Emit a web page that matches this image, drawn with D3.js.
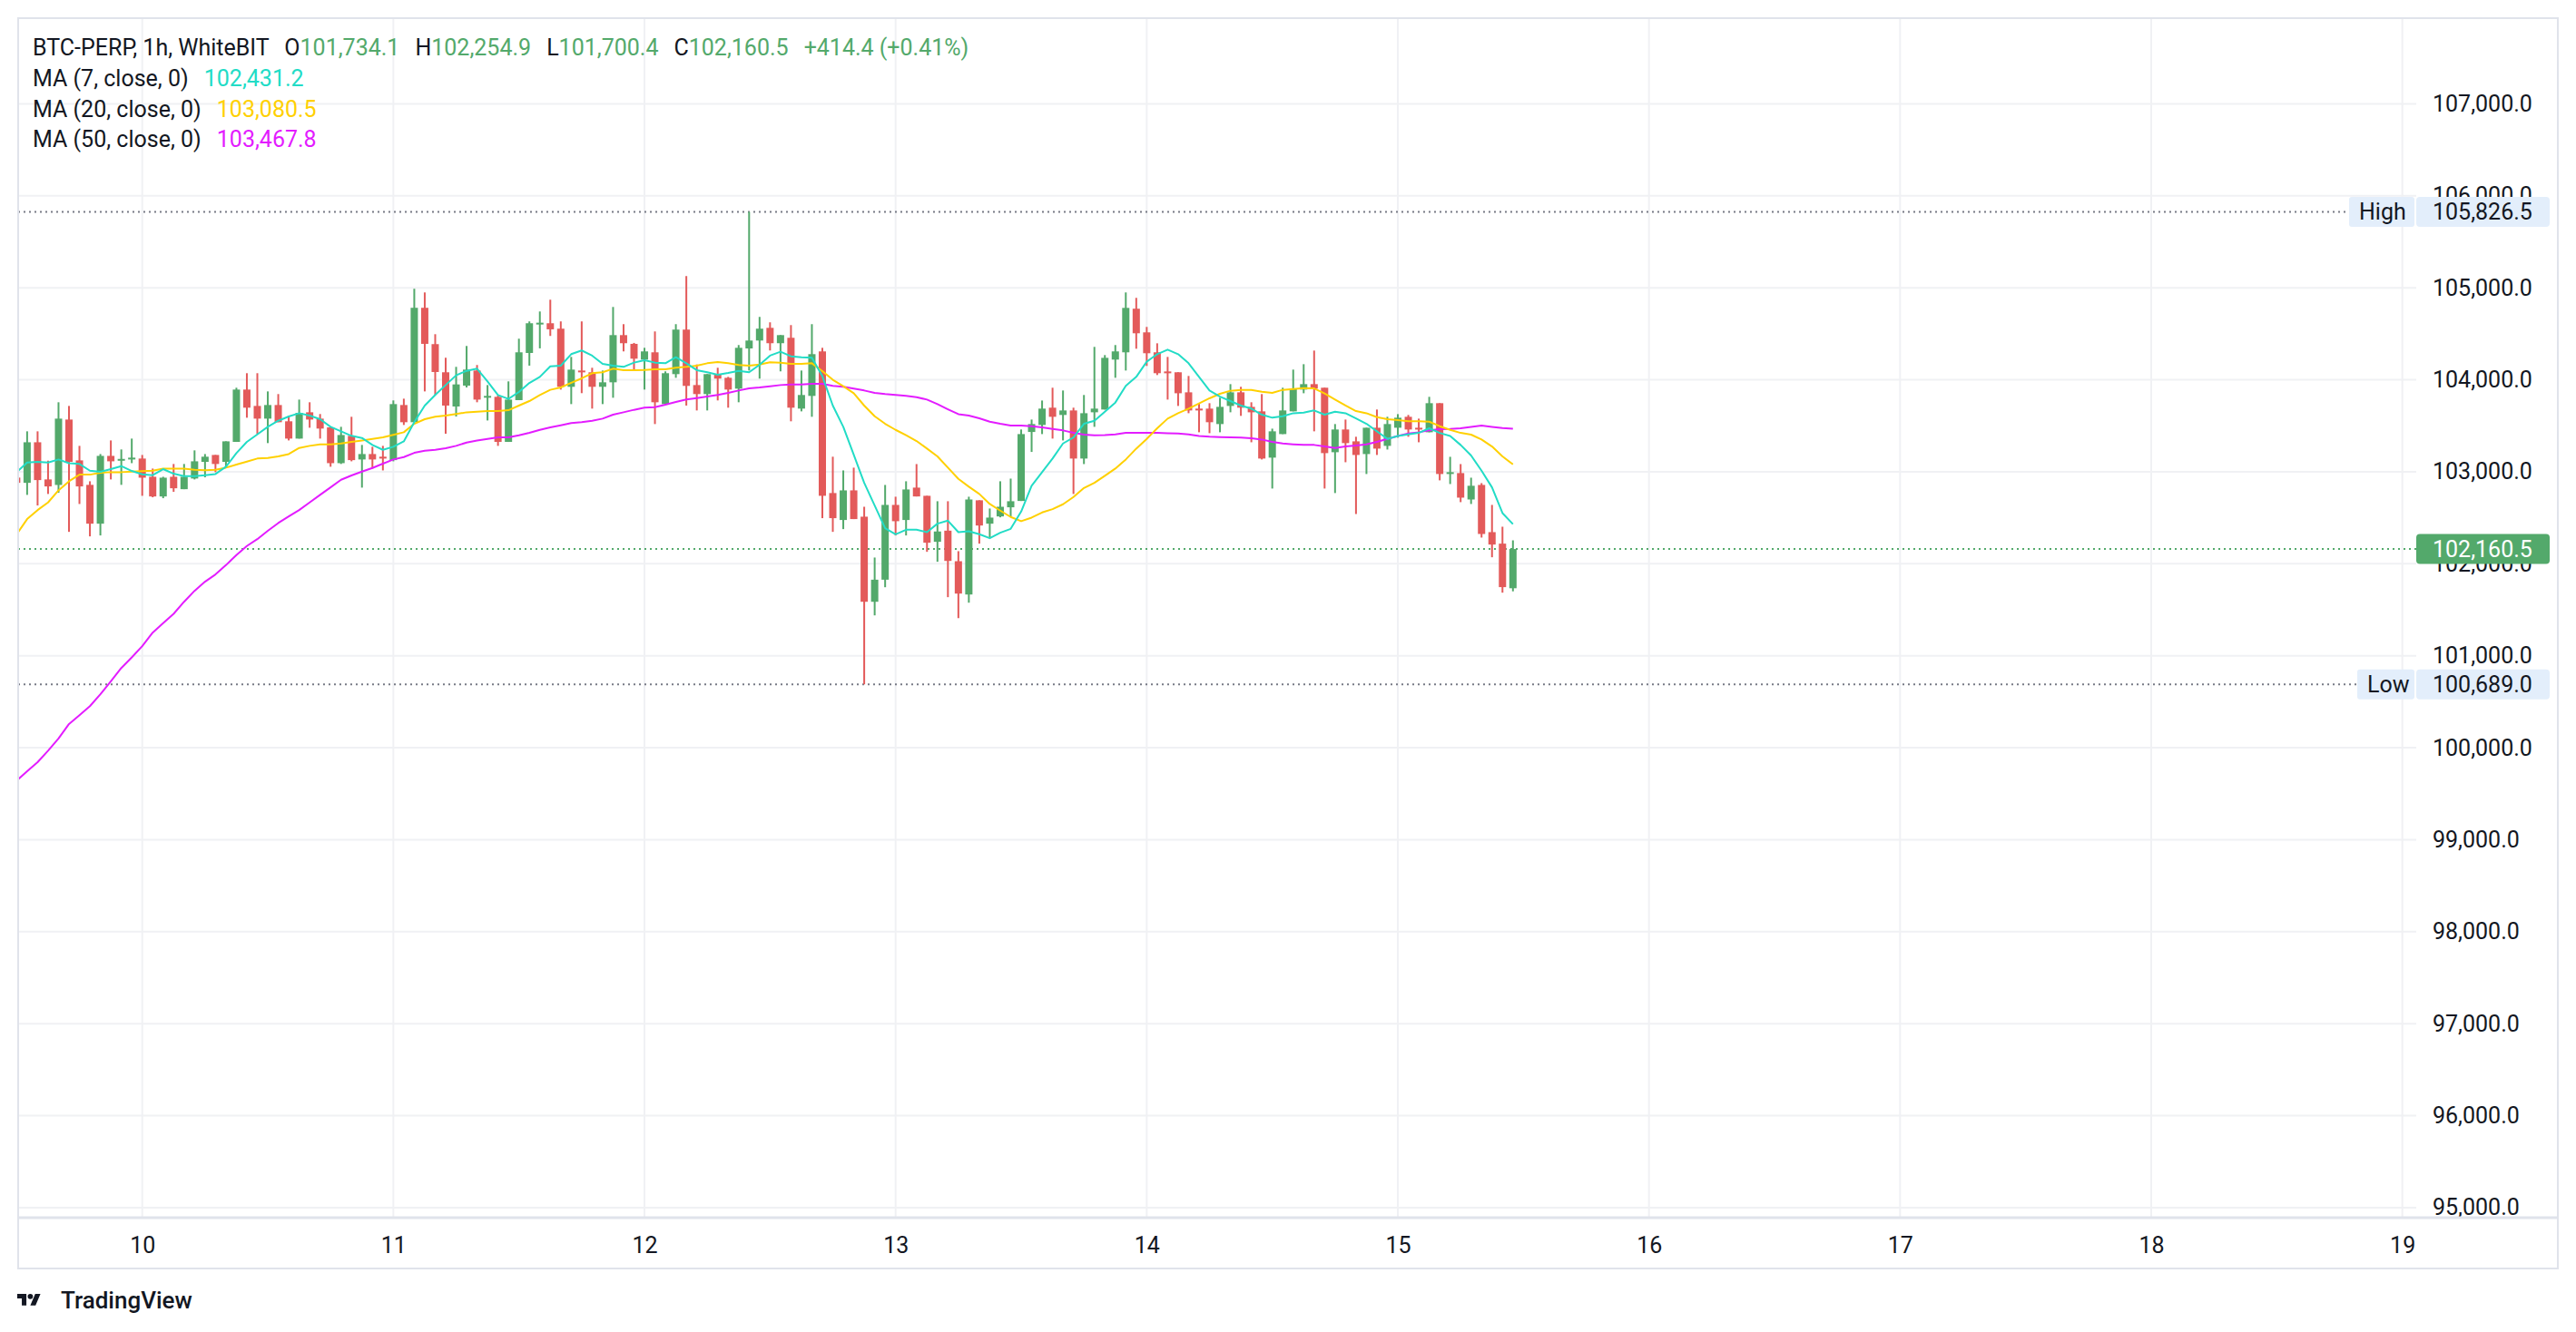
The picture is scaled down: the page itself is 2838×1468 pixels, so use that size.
<!DOCTYPE html>
<html>
<head>
<meta charset="utf-8">
<script src="https://cdn.jsdelivr.net/npm/d3@7"></script>
<style>
  html, body { margin: 0; padding: 0; background: #ffffff; }
  svg { display: block; font-family: Roboto, "Liberation Sans", Arial, sans-serif; }
</style>
</head>
<body>
<div class="candleChart"></div>
<script>
// hourly candles, first one is 9th 12:00 (partly hidden behind the left edge)
const openPrices = [
  102937, 102880, 103321, 102917, 102857, 103568, 103124, 102858, 102436, 103173, 103127, 103134,
  103144, 102946, 102732, 102946, 102811, 102927, 103108, 103183, 103108, 103325, 103894, 103716,
  103578, 103726, 103549, 103361, 103647, 103578, 103483, 103094, 103391, 103134, 103193, 103164,
  103127, 103726, 103539, 104783, 104388, 104082, 103710, 103937, 104101, 103812, 103815, 103325,
  103779, 104292, 104608, 104615, 104556, 103924, 104101, 104082, 103924, 103973, 104486, 104391,
  104220, 104299, 103736, 104062, 104546, 103943, 103845, 104062, 104022, 103904, 104341, 104427,
  104565, 104398, 104457, 103687, 103825, 104309, 102769, 102476, 102798, 102512, 101587, 101827,
  102640, 102476, 102828, 102739, 102239, 102360, 102028, 101666, 102690, 102436, 102515, 102614,
  102683, 103433, 103509, 103697, 103618, 103667, 103144, 103647, 103677, 104220, 104299, 104773,
  104516, 104299, 104091, 104082, 103864, 103687, 103687, 103519, 103716, 103864, 103706, 103657,
  103154, 103410, 103657, 103894, 103953, 103914, 103213, 103460, 103331, 103193, 103479, 103282,
  103479, 103598, 103479, 103430, 103746, 102976, 102986, 102699, 102857, 102344, 102219, 101734.1
];
const highPrices = [
  102960, 103440, 103440, 103121, 103756, 103716, 103282, 102897, 103193, 103341, 103243, 103361,
  103183, 103035, 102946, 103085, 103085, 103233, 103193, 103183, 103331, 103914, 104072, 104072,
  103874, 103845, 103608, 103785, 103756, 103628, 103483, 103489, 103598, 103292, 103272, 103282,
  103776, 103795, 104990, 104950, 104496, 104240, 104141, 104368, 104161, 103943, 103835, 103983,
  104447, 104635, 104743, 104871, 104635, 104249, 104635, 104131, 104101, 104792, 104605, 104401,
  104348, 104526, 104092, 104605, 105128, 104167, 104062, 104131, 104032, 104378, 105826.5, 104684,
  104625, 104486, 104595, 104101, 104605, 104348, 103164, 103015, 103045, 102620, 102068, 102857,
  102729, 102897, 103084, 102739, 102680, 102680, 102137, 102729, 102690, 102601, 102897, 102926,
  103460, 103568, 103775, 103914, 103884, 103697, 103835, 104358, 104269, 104378, 104950, 104891,
  104575, 104397, 104249, 104082, 104042, 103746, 103746, 103805, 103953, 103924, 103756, 103845,
  103469, 103914, 104111, 104170, 104318, 103914, 103519, 103568, 103381, 103479, 103677, 103598,
  103627, 103618, 103578, 103815, 103746, 103163, 103084, 102936, 102877, 102640, 102403, 102254.9
];
const lowPrices = [
  102860, 102749, 102634, 102759, 102772, 102347, 102650, 102298, 102308, 102917, 102858, 103094,
  102739, 102723, 102713, 102782, 102811, 102917, 102940, 102996, 103058, 103325, 103588, 103410,
  103312, 103539, 103341, 103361, 103479, 103361, 103055, 103085, 103114, 102828, 103035, 103015,
  103114, 103509, 103539, 103874, 103835, 103414, 103601, 103917, 103756, 103558, 103282, 103325,
  103779, 104154, 104342, 104477, 103894, 103736, 103855, 103687, 103736, 103805, 104309, 104101,
  103894, 103519, 103736, 104022, 103720, 103667, 103667, 103776, 103697, 103756, 104101, 104013,
  104319, 104092, 103549, 103657, 103598, 102496, 102347, 102377, 102486, 100689, 101439, 101745,
  102308, 102308, 102732, 102130, 102022, 101637, 101409, 101577, 102219, 102278, 102505, 102515,
  102683, 103216, 103410, 103361, 103341, 102759, 103084, 103489, 103677, 104022, 104101, 104338,
  104151, 104052, 103785, 103716, 103637, 103430, 103420, 103430, 103647, 103608, 103321, 103134,
  102818, 103410, 103657, 103854, 103440, 102818, 102769, 103104, 102541, 102976, 103183, 103242,
  103371, 103381, 103321, 103430, 102907, 102867, 102670, 102650, 102285, 102071, 101686, 101700.4
];
const closePrices = [
  102880, 103321, 102910, 102841, 103578, 103108, 102841, 102436, 103173, 103114, 103140, 103154,
  102936, 102732, 102936, 102821, 102946, 103114, 103164, 103085, 103331, 103894, 103697, 103578,
  103726, 103539, 103361, 103641, 103568, 103470, 103094, 103400, 103127, 103193, 103134, 103144,
  103736, 103539, 104783, 104391, 104085, 103720, 103950, 104111, 103785, 103825, 103325, 103785,
  104299, 104615, 104621, 104549, 103924, 104111, 104082, 103924, 103973, 104486, 104398, 104230,
  104309, 103756, 104072, 104546, 103934, 103845, 104062, 104013, 103894, 104348, 104427, 104556,
  104398, 104486, 103697, 103835, 104279, 102739, 102496, 102798, 102486, 101587, 101827, 102640,
  102463, 102808, 102732, 102229, 102351, 102031, 101676, 102699, 102416, 102502, 102620, 102680,
  103410, 103519, 103687, 103598, 103667, 103144, 103637, 103687, 104239, 104309, 104782, 104506,
  104289, 104072, 104072, 103854, 103667, 103667, 103539, 103706, 103864, 103697, 103647, 103144,
  103440, 103667, 103904, 103953, 103904, 103203, 103460, 103312, 103183, 103479, 103252, 103519,
  103588, 103460, 103460, 103746, 102976, 102996, 102719, 102848, 102324, 102209, 101746.1, 102160.5
];

// moving averages as they are drawn on the chart
const ma7 = [
  102996, 103101, 103108, 103101, 103134, 103094, 103085, 103012, 103000, 103029, 103062, 103009,
  102973, 102963, 103029, 102979, 102953, 102953, 102963, 102976, 103055, 103203, 103325, 103407,
  103489, 103555, 103601, 103637, 103611, 103572, 103489, 103440, 103391, 103368, 103292, 103239,
  103272, 103331, 103539, 103720, 103835, 103943, 104049, 104098, 104121, 103983, 103835, 103792,
  103868, 103966, 104032, 104147, 104154, 104279, 104319, 104263, 104174, 104154, 104141, 104187,
  104213, 104187, 104180, 104246, 104180, 104105, 104082, 104055, 104075, 104098, 104082, 104164,
  104263, 104305, 104256, 104246, 104240, 104040, 103720, 103489, 103185, 102880, 102634, 102387,
  102321, 102370, 102370, 102344, 102436, 102469, 102344, 102354, 102321, 102278, 102338, 102380,
  102568, 102848, 102996, 103144, 103308, 103374, 103522, 103555, 103654, 103753, 103934, 104032,
  104197, 104279, 104328, 104279, 104180, 104032, 103884, 103818, 103769, 103720, 103687, 103621,
  103588, 103604, 103637, 103644, 103667, 103621, 103654, 103637, 103581, 103522, 103440, 103358,
  103390, 103407, 103423, 103473, 103423, 103390, 103292, 103177, 103012, 102831, 102551, 102431.2
];
const ma20 = [
  102321, 102486, 102584, 102667, 102798, 102897, 102969, 102969, 102989, 102996, 102996, 103002,
  103006, 103012, 103035, 103035, 103035, 103022, 103016, 103022, 103045, 103078, 103111, 103144,
  103150, 103167, 103193, 103259, 103282, 103299, 103299, 103308, 103325, 103341, 103358, 103374,
  103401, 103430, 103522, 103572, 103598, 103611, 103628, 103647, 103654, 103661, 103661, 103670,
  103720, 103769, 103835, 103891, 103917, 103967, 104016, 104072, 104082, 104121, 104105, 104105,
  104108, 104115, 104115, 104131, 104141, 104154, 104180, 104193, 104180, 104161, 104154, 104167,
  104190, 104187, 104174, 104174, 104180, 104095, 104000, 103930, 103855, 103720, 103604, 103522,
  103456, 103397, 103335, 103252, 103167, 103045, 102923, 102838, 102759, 102650, 102578, 102509,
  102463, 102502, 102558, 102594, 102647, 102726, 102824, 102880, 102956, 103035, 103134, 103252,
  103358, 103473, 103578, 103637, 103687, 103743, 103799, 103848, 103881, 103891, 103891, 103871,
  103858, 103891, 103901, 103910, 103907, 103851, 103785, 103720, 103660, 103637, 103594, 103572,
  103562, 103549, 103549, 103545, 103496, 103456, 103423, 103404, 103351, 103275, 103167, 103080.5
];
const ma50 = [
  99643, 99745, 99843, 99968, 100100, 100258, 100353, 100452, 100581, 100722, 100867, 100982,
  101104, 101252, 101354, 101456, 101587, 101706, 101805, 101884, 101985, 102095, 102193, 102268,
  102358, 102443, 102515, 102584, 102667, 102749, 102831, 102913, 102960, 103002, 103042, 103088,
  103134, 103160, 103206, 103229, 103239, 103256, 103282, 103318, 103341, 103358, 103374, 103374,
  103397, 103424, 103456, 103483, 103506, 103529, 103539, 103555, 103578, 103621, 103647, 103674,
  103697, 103703, 103730, 103759, 103786, 103802, 103818, 103835, 103858, 103884, 103907, 103917,
  103930, 103943, 103950, 103950, 103957, 103957, 103934, 103924, 103905, 103884, 103858, 103845,
  103835, 103825, 103812, 103785, 103736, 103680, 103627, 103611, 103581, 103545, 103522, 103502,
  103502, 103496, 103483, 103466, 103450, 103423, 103404, 103397, 103400, 103407, 103423, 103423,
  103423, 103423, 103420, 103417, 103407, 103390, 103381, 103377, 103374, 103371, 103364, 103351,
  103325, 103308, 103299, 103292, 103292, 103275, 103259, 103275, 103286, 103299, 103325, 103358,
  103390, 103417, 103430, 103450, 103463, 103466, 103473, 103489, 103502, 103489, 103476, 103467.8
];

const dayTicks = [10, 11, 12, 13, 14, 15, 16, 17, 18, 19];
const priceTicks = [95000, 96000, 97000, 98000, 99000, 100000, 101000, 102000, 103000, 104000, 105000, 106000, 107000];
const highValue = 105826.5;
const lowValue = 100689.0;
const lastClose = 102160.5;

const upColor = '#53a96b';
const downColor = '#e35a5a';
const textColor = '#131722';
const gridColor = '#f0f1f4';
const borderColor = '#e0e3eb';
const maColors = ['#22dcc6', '#ffd000', '#e31cff'];

const W = 2838, H = 1468;
const plot = { left: 20, right: 2662, top: 20, bottom: 1342 };
const frameRight = 2818, frameBottom = 1398;

const hour = 3600 * 1000;
const startTime = Date.UTC(2025, 4, 9, 12);
const candles = closePrices.map((c, i) => ({
    t: new Date(startTime + i * hour),
    o: openPrices[i], h: highPrices[i], l: lowPrices[i], c: c
}));

const x = d3.scaleUtc()
    .domain([new Date(startTime + 0.142 * hour), new Date(startTime + 229.33 * hour)])
    .range([plot.left, plot.right]);
const y = d3.scaleLinear()
    .domain([94891, 107932])
    .range([plot.bottom, plot.top]);

const svg = d3.select('.candleChart')
    .append('svg')
    .attr('width', W)
    .attr('height', H);

svg.append('defs').append('clipPath')
    .attr('id', 'plotClip')
    .append('rect')
    .attr('x', plot.left)
    .attr('y', plot.top)
    .attr('width', plot.right - plot.left)
    .attr('height', plot.bottom - plot.top);

// grid
svg.append('g')
    .selectAll('line')
    .data(priceTicks)
    .enter()
    .append('line')
    .attr('x1', plot.left).attr('x2', plot.right)
    .attr('y1', d => y(d)).attr('y2', d => y(d))
    .attr('stroke', gridColor).attr('stroke-width', 2);

svg.append('g')
    .selectAll('line')
    .data(dayTicks)
    .enter()
    .append('line')
    .attr('x1', d => x(new Date(Date.UTC(2025, 4, d)))).attr('x2', d => x(new Date(Date.UTC(2025, 4, d))))
    .attr('y1', plot.top).attr('y2', plot.bottom)
    .attr('stroke', gridColor).attr('stroke-width', 2);

// high / low / last price lines
svg.append('line')
    .attr('x1', plot.left).attr('x2', 2588)
    .attr('y1', y(highValue)).attr('y2', y(highValue))
    .attr('stroke', '#787b86').attr('stroke-width', 2).attr('stroke-dasharray', '2,4');
svg.append('line')
    .attr('x1', plot.left).attr('x2', 2597)
    .attr('y1', y(lowValue)).attr('y2', y(lowValue))
    .attr('stroke', '#787b86').attr('stroke-width', 2).attr('stroke-dasharray', '2,4');
svg.append('line')
    .attr('x1', plot.left).attr('x2', plot.right)
    .attr('y1', y(lastClose)).attr('y2', y(lastClose))
    .attr('stroke', upColor).attr('stroke-width', 2).attr('stroke-dasharray', '2,4');

// candles
const cg = svg.append('g').attr('clip-path', 'url(#plotClip)');
const candle = cg.selectAll('.candle')
    .data(candles)
    .enter()
    .append('g')
    .attr('class', 'candle');

candle.append('rect')
    .attr('x', d => x(d.t) - 1)
    .attr('y', d => y(d.h))
    .attr('width', 2)
    .attr('height', d => Math.max(1, y(d.l) - y(d.h)))
    .attr('fill', d => d.c >= d.o ? upColor : downColor);

candle.append('rect')
    .attr('x', d => x(d.t) - 4)
    .attr('y', d => y(Math.max(d.o, d.c)))
    .attr('width', 8)
    .attr('height', d => Math.max(2, Math.abs(y(d.o) - y(d.c))))
    .attr('fill', d => d.c >= d.o ? upColor : downColor);

// moving averages
[ma50, ma20, ma7].forEach((series, k) => {
    const line = d3.line()
        .x((d, i) => x(candles[i].t))
        .y(d => y(d));
    cg.append('path')
        .datum(series)
        .attr('fill', 'none')
        .attr('stroke', maColors[2 - k])
        .attr('stroke-width', 2)
        .attr('stroke-linejoin', 'round')
        .attr('d', line);
});

// price scale
const yAxis = svg.append('g')
    .attr('transform', 'translate(2680,0)')
    .call(d3.axisRight(y).tickValues(priceTicks).tickFormat(d3.format(',.1f')).tickSize(0).tickPadding(0));
yAxis.select('.domain').remove();
yAxis.selectAll('text')
    .attr('font-size', 25)
    .attr('fill', textColor)
    .attr('font-family', 'Roboto, "Liberation Sans", Arial, sans-serif');

// time scale
const xAxis = svg.append('g')
    .attr('transform', 'translate(0,' + plot.bottom + ')')
    .call(d3.axisBottom(x)
        .tickValues(dayTicks.map(d => new Date(Date.UTC(2025, 4, d))))
        .tickFormat(d3.utcFormat('%-d'))
        .tickSize(0)
        .tickPadding(21));
xAxis.select('.domain').remove();
xAxis.selectAll('text')
    .attr('font-size', 25)
    .attr('fill', textColor)
    .attr('font-family', 'Roboto, "Liberation Sans", Arial, sans-serif');

// frame
svg.append('rect')
    .attr('x', plot.left).attr('y', plot.top)
    .attr('width', frameRight - plot.left).attr('height', frameBottom - plot.top)
    .attr('fill', 'none').attr('stroke', borderColor).attr('stroke-width', 2);
svg.append('line')
    .attr('x1', plot.left).attr('x2', frameRight)
    .attr('y1', plot.bottom).attr('y2', plot.bottom)
    .attr('stroke', borderColor).attr('stroke-width', 3);

// price labels on the scale
const tagFont = 25;
function priceTag(value, fill, color, label, labelX) {
    const cy = y(value);
    if (label) {
        svg.append('rect')
            .attr('x', labelX).attr('y', cy - 16.5)
            .attr('width', 2660 - labelX).attr('height', 33)
            .attr('rx', 3)
            .attr('fill', fill);
        svg.append('text')
            .attr('x', labelX + 11).attr('y', cy)
            .attr('dy', '0.36em')
            .attr('font-size', tagFont)
            .attr('fill', color)
            .text(label);
    }
    svg.append('rect')
        .attr('x', 2662).attr('y', cy - 16.5)
        .attr('width', 147).attr('height', 33)
        .attr('rx', 4)
        .attr('fill', fill);
    svg.append('text')
        .attr('x', 2680).attr('y', cy)
        .attr('dy', '0.36em')
        .attr('font-size', tagFont)
        .attr('fill', color)
        .text(d3.format(',.1f')(value));
}
priceTag(highValue, '#e3eefb', textColor, 'High', 2588);
priceTag(lowValue, '#e3eefb', textColor, 'Low', 2597);
priceTag(lastClose, upColor, '#ffffff', null, 0);

// legend
const fmt = d3.format(',.1f');
const legend = svg.append('g').attr('font-size', 25);
const row1 = legend.append('text').attr('x', 36).attr('y', 52).attr('dy', '0.36em').attr('fill', textColor);
row1.append('tspan').text('BTC-PERP, 1h, WhiteBIT');
const last = candles[candles.length - 1];
const prevClose = closePrices[closePrices.length - 2];
[['O', last.o], ['H', last.h], ['L', last.l], ['C', last.c]].forEach(([k, v]) => {
    row1.append('tspan').attr('dx', 17).attr('fill', textColor).text(k);
    row1.append('tspan').attr('fill', upColor).text(fmt(v));
});
const chg = last.c - prevClose;
row1.append('tspan').attr('dx', 17).attr('fill', upColor)
    .text('+' + fmt(chg) + ' (+' + (chg / prevClose * 100).toFixed(2) + '%)');

const maRows = [['MA (7, close, 0)', ma7], ['MA (20, close, 0)', ma20], ['MA (50, close, 0)', ma50]];
maRows.forEach(([name, series], k) => {
    const t = legend.append('text')
        .attr('x', 36).attr('y', [86, 120, 153][k]).attr('dy', '0.36em').attr('fill', textColor);
    t.append('tspan').text(name);
    t.append('tspan').attr('dx', 17).attr('fill', maColors[k]).text(fmt(series[series.length - 1]));
});

// TradingView mark
const logo = svg.append('g').attr('transform', 'translate(19,1423) scale(0.72)');
logo.append('path').attr('d', 'M14 22H7V11H0V4h14v18zM28 22h-8l7.5-18h8L28 22z').attr('fill', textColor);
logo.append('circle').attr('cx', 20).attr('cy', 8).attr('r', 4).attr('fill', textColor);
svg.append('text')
    .attr('x', 67).attr('y', 1433)
    .attr('dy', '0.36em')
    .attr('font-size', 26)
    .attr('font-weight', 500)
    .attr('fill', textColor)
    .text('TradingView');
</script>
</body>
</html>
